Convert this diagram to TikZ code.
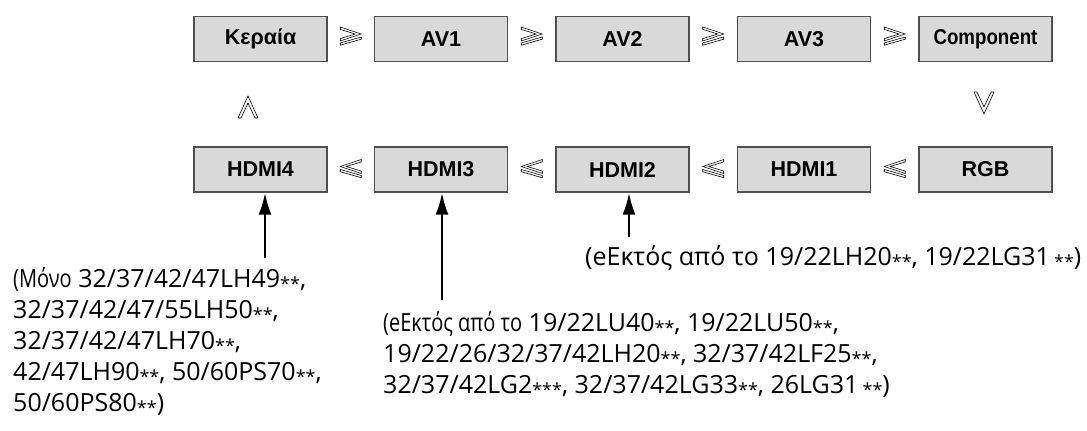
\documentclass[tikz,border=0pt]{standalone}
\usepackage{amssymb}
\usepackage{fontspec}
\usepackage{tikz}
\usetikzlibrary{calc,arrows.meta}
\definecolor{boxfill}{RGB}{217, 217, 217}
\definecolor{boxline}{RGB}{80, 80, 80}
\newfontfamily\srcfamily{Liberation Sans}
\newfontfamily\notefamily{Open Sans}
\newcommand\srcfont{\srcfamily\bfseries\fontsize{21.5}{24}\selectfont}
\newcommand\notesfont{\notefamily\fontsize{25}{31}\selectfont}
\newcommand\smallstar{\raisebox{-0.12em}{\scalebox{0.72}{*}}}

\tikzset{
  srcbox/.style = {
    draw            = boxline,
    line width      = 1.4pt,
    fill            = boxfill,
    minimum width   = 133pt,
    minimum height  = 45pt,
    inner sep       = 0pt,
    font            = \srcfont
  },
  notetext/.style = {
    anchor          = north west,
    inner sep       = 0pt,
    align           = left,
    font            = \notesfont
  },
  pointer/.style = {
    line width      = 2.4pt,
    -{Latex[length=22pt, width=13pt]}
  },
  markline/.style = {draw = black, line width = 0.6pt, fill = white},
  gtmark/.pic = {
    \draw[markline] (-10.5,-9) -- (10.5,-2) -- (-10.5,5) -- (-10.5,2.6) -- (4.5,-2) -- (-10.5,-6.6) -- cycle;
    \draw[markline] (10.5,1) -- (-10.5,7) -- (-10.5,9.2) -- (10.5,3.2) -- cycle;
  },
  upmark/.pic = {
    \draw[markline] (-10,11) -- (0,-11) -- (10,11) -- (7,11) -- (0,-4) -- (-7,11) -- cycle;
  }
}

\begin{document}
\begin{tikzpicture}[x=1pt, y=-1pt]
  \useasboundingbox (0,0) rectangle (1087,431);

  % top row
  \node[srcbox] (keraia)  at (260.5,39) {Κεραία};
  \node[srcbox] (avone)   at (441,39)   {AV1};
  \node[srcbox] (avtwo)   at (622.5,39) {AV2};
  \node[srcbox] (avthree) at (804,39)   {AV3};
  \node[srcbox] (comp)    at (985.5,39) {\scalebox{0.87}[1]{Component}};

  % bottom row
  \node[srcbox] (hdmifour)  at (260.5,169.5) {HDMI4};
  \node[srcbox] (hdmithree) at (441,169.5)   {HDMI3};
  \node[srcbox] (hdmitwo)   at (622.5,169.5) {HDMI2};
  \node[srcbox] (hdmione)   at (804,169.5)   {HDMI1};
  \node[srcbox] (rgb)       at (985.5,169.5) {RGB};

  \pic at ($(keraia.east)!0.5!(avone.west)+(0,-3)$)    {gtmark};
  \pic at ($(avone.east)!0.5!(avtwo.west)+(0,-3)$)     {gtmark};
  \pic at ($(avtwo.east)!0.5!(avthree.west)+(0,-3)$)   {gtmark};
  \pic at ($(avthree.east)!0.5!(comp.west)+(0,-3)$)    {gtmark};
  \pic[xscale=-1] at ($(hdmifour.east)!0.5!(hdmithree.west)+(0,-1)$) {gtmark};
  \pic[xscale=-1] at ($(hdmithree.east)!0.5!(hdmitwo.west)+(0,-1)$)  {gtmark};
  \pic[xscale=-1] at ($(hdmitwo.east)!0.5!(hdmione.west)+(0,-1)$)    {gtmark};
  \pic[xscale=-1] at ($(hdmione.east)!0.5!(rgb.west)+(0,-1)$)        {gtmark};
  \pic at (248,107) {upmark};
  \pic[yscale=-1] at (984,103) {upmark};

  % notes
  \node[notetext] (notefour) at (13,267) {\scalebox{0.8}[1]{(Μόνο} 32/37/42/47LH49\smallstar\smallstar,\\
    32/37/42/47/55LH50\smallstar\smallstar,\\
    32/37/42/47LH70\smallstar\smallstar,\\
    42/47LH90\smallstar\smallstar, 50/60PS70\smallstar\smallstar,\\
    50/60PS80\smallstar\smallstar)};
  \node[notetext] (notethree) at (383,311) {\scalebox{0.8}[1]{(eΕκτός από το} 19/22LU40\smallstar\smallstar, 19/22LU50\smallstar\smallstar,\\
    19/22/26/32/37/42LH20\smallstar\smallstar, 32/37/42LF25\smallstar\smallstar,\\
    32/37/42LG2\smallstar\smallstar\smallstar, 32/37/42LG33\smallstar\smallstar, 26LG31\,\smallstar\smallstar)};
  \node[notetext] (notetwo) at (585,245) {(eΕκτός από το 19/22LH20\smallstar\smallstar, 19/22LG31\,\smallstar\smallstar)};

  \coordinate (pfour)  at (265,258);
  \coordinate (pthree) at (442,300);
  \coordinate (ptwo)   at (629,237);
  \draw[pointer] (pfour)  -- (pfour |- hdmifour.south);
  \draw[pointer] (pthree) -- (pthree |- hdmithree.south);
  \draw[pointer] (ptwo)   -- (ptwo |- hdmitwo.south);
\end{tikzpicture}
\end{document}
